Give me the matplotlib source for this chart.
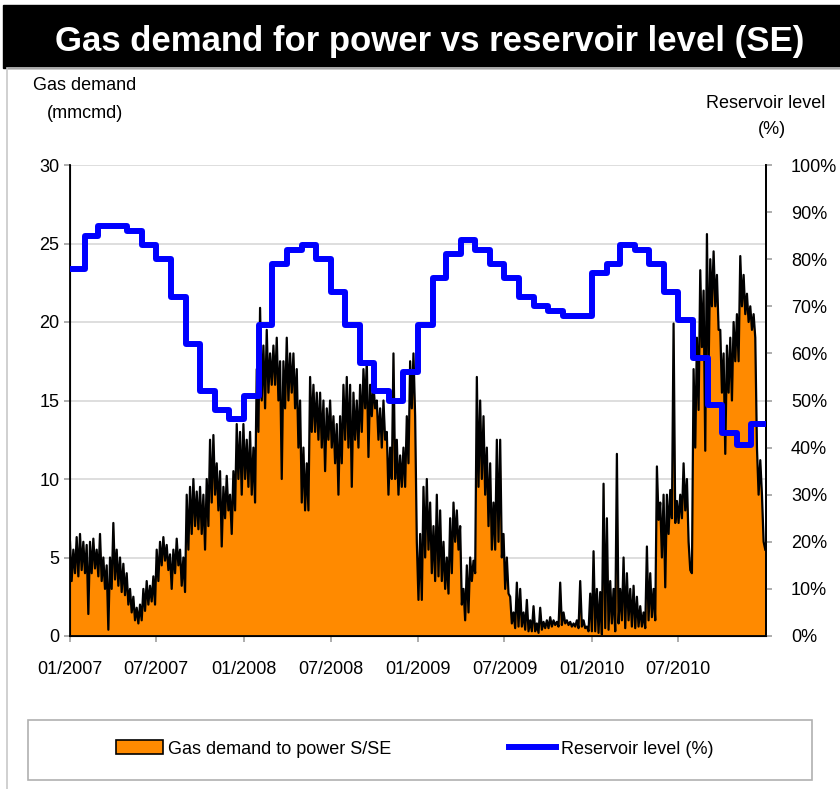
import matplotlib
matplotlib.use("Agg")
import matplotlib.pyplot as plt
import matplotlib.dates as mdates
from matplotlib.patches import Rectangle, Patch
from matplotlib.lines import Line2D
from matplotlib.ticker import PercentFormatter
import numpy as np
import pandas as pd

# weekly envelope of daily gas demand to power (mmcmd)
demand_hi = [
    6.0, 5.5, 6.3, 6.5, 6.0, 5.8, 6.0, 6.2, 5.5, 6.5, 5.0, 4.5,
    5.0, 7.2, 5.5, 5.0, 4.6, 4.0, 3.0, 2.5, 1.8, 2.0, 3.0, 3.5,
    3.2, 3.8, 5.5, 6.0, 6.3, 5.8, 5.2, 5.5, 6.2, 5.5, 5.0, 9.0,
    9.5, 10.0, 9.2, 9.5, 9.0, 10.0, 12.5, 12.8, 11.0, 10.5, 9.5, 10.2,
    9.0, 10.5, 13.5, 13.0,
    13.5, 12.5, 13.0, 12.0, 17.0, 20.9, 18.5, 19.5, 18.0, 18.5, 19.0, 17.5,
    17.5, 19.0, 18.0, 18.0, 17.0, 15.0, 12.0, 11.0, 16.5, 16.0, 15.5, 15.5,
    15.0, 14.5, 15.0, 14.0, 13.5, 14.0, 16.0, 16.5, 16.0, 15.5, 15.0, 16.0,
    17.0, 17.5, 16.0, 16.0, 15.0, 14.5, 15.0, 13.0, 12.0, 18.0, 12.5, 11.5,
    12.0, 14.0, 17.5, 18.0, 6.0,
    6.5, 9.5, 10.0, 8.5, 7.0, 9.0, 8.0, 6.0, 5.0, 7.5, 8.5, 8.0,
    7.0, 3.0, 4.5, 5.0, 4.8, 16.5, 15.0, 14.0, 12.0, 11.0, 8.5, 12.5,
    12.5, 6.5, 5.0, 2.5, 1.5, 3.4, 3.0, 1.5, 2.3, 1.0, 1.9, 0.8,
    1.8, 0.9, 1.0, 1.2, 1.0, 0.9, 3.4, 1.5, 1.0, 0.9, 0.8, 1.0,
    3.5, 1.0, 0.6, 2.7, 5.4,
    3.0, 2.8, 9.7, 7.5, 3.5, 3.0, 11.6, 3.0, 5.0, 4.0, 3.0, 3.2,
    2.5, 1.9, 1.5, 5.7, 4.0, 3.0, 10.8, 8.5, 9.0, 9.0, 9.3, 19.9,
    8.6, 9.0, 11.0, 10.0, 4.2, 17.0, 19.0, 23.3, 22.0, 25.6, 24.0, 24.5,
    23.0, 19.5, 18.0, 18.5, 19.0, 20.0, 20.5, 24.2, 23.0, 21.8, 21.0, 20.5,
    12.0, 11.2, 6.0,
]
demand_lo = [
    3.5, 4.0, 3.8, 4.2, 4.0, 1.4, 4.0, 4.3, 3.8, 3.5, 3.0, 0.4,
    3.0, 3.6, 3.2, 2.8, 2.6, 2.0, 1.5, 1.0, 0.8, 1.0, 1.6, 2.0,
    2.2, 2.0, 3.5, 4.5, 4.8, 4.2, 3.0, 4.0, 4.5, 3.2, 2.8, 5.5,
    6.5, 7.0, 6.8, 6.5, 5.5, 7.0, 8.5, 9.0, 8.0, 5.7, 7.5, 8.0,
    6.5, 8.0, 10.0, 9.0,
    10.0, 9.5, 9.0, 8.5, 13.0, 15.0, 14.5, 15.5, 16.0, 16.0, 15.0, 10.0,
    14.5, 15.0, 15.5, 14.5, 12.0, 8.5, 8.0, 8.0, 13.0, 13.0, 12.5, 12.0,
    10.5, 12.5, 12.0, 11.0, 9.0, 11.0, 12.5, 12.0, 9.5, 12.5, 12.0, 13.0,
    14.5, 11.4, 14.0, 14.5, 12.5, 12.0, 12.5, 9.0, 10.0, 10.0, 9.0, 9.5,
    9.5, 11.0, 14.5, 14.0, 2.3,
    2.3, 5.0, 5.5, 4.0, 3.5, 3.8, 3.5, 3.0, 2.7, 4.0, 6.0, 5.5,
    2.0, 1.0, 1.5, 3.5, 4.0, 9.5, 10.0, 9.0, 7.0, 5.5, 5.5, 6.0,
    5.0, 3.0, 2.7, 0.8, 0.5, 0.6, 0.6, 0.4, 0.3, 0.3, 0.3, 0.2,
    0.4, 0.5, 0.5, 0.6, 0.7, 0.6, 0.7, 0.8, 0.7, 0.6, 0.6, 0.5,
    0.6, 0.5, 0.3, 0.3, 0.3,
    0.2, 0.1, 0.5, 0.4, 0.8, 0.3, 0.8, 1.0, 0.5, 1.0, 0.6, 0.5,
    0.6, 0.6, 0.5, 1.0, 1.2, 1.0, 7.4, 5.0, 3.1, 6.5, 7.5, 7.2,
    7.2, 7.5, 8.0, 6.0, 4.0, 12.0, 14.4, 18.4, 11.8, 17.0, 21.0, 21.0,
    19.5, 15.5, 11.6, 15.5, 15.0, 17.5, 17.5, 21.0, 20.5, 20.0, 19.5, 19.0,
    9.0, 9.0, 5.5,
]

# monthly reservoir level (%), Jan 2007 .. Dec 2010
reservoir = [
    78, 85, 87, 87, 86, 83, 80, 72, 62, 52, 48, 46,
    51, 66, 79, 82, 83, 80, 73, 66, 58, 52, 50, 56,
    66, 76, 81, 84, 82, 79, 76, 72, 70, 69, 68, 68,
    77, 79, 83, 82, 79, 73, 67, 59, 49, 43, 40.5, 45,
]

tick_dates = pd.date_range("2007-01-01", "2010-07-01", freq="6MS")
tick_labels = [d.strftime("%m/%Y") for d in tick_dates]

weeks = pd.date_range("2007-01-01", periods=len(demand_hi), freq="7D")
t_hi = mdates.date2num(weeks)
t_lo = t_hi + 3.5
t = np.column_stack([t_hi, t_lo]).ravel()
demand = np.column_stack([demand_hi, demand_lo]).ravel()

months = pd.date_range("2007-01-01", periods=len(reservoir) + 1, freq="MS")
res = np.array(reservoir + [reservoir[-1]]) / 100.0

fnt = ["Liberation Sans Narrow", "Liberation Sans", "DejaVu Sans"]
plt.rcParams["font.family"] = fnt

fig = plt.figure(figsize=(8.4, 7.89), dpi=100)

# title bar and frame
fig.patches.append(Rectangle((3 / 840, 1 - 68 / 789), 1, 63 / 789,
                             transform=fig.transFigure, color="black", zorder=0))
fig.patches.append(Rectangle((7 / 840, -0.01), 1, 1 - 68 / 789 + 0.01,
                             transform=fig.transFigure, fill=False,
                             edgecolor="#c8c8c8", lw=1.2, zorder=0))
fig.text(430 / 840, 1 - 42 / 789, "Gas demand for power vs reservoir level (SE)",
         color="white", fontsize=25, fontweight="bold", ha="center", va="center")

ax = fig.add_axes([70 / 840, 1 - 636 / 789, 696 / 840, 471 / 789])
ax.fill_between(t, demand, 0, color="#FF8A00", lw=0, zorder=2)
ax.plot(t, demand, color="black", lw=1.6, zorder=3)
ax.set_xlim(mdates.date2num(pd.Timestamp("2007-01-01")),
            mdates.date2num(pd.Timestamp("2011-01-01")))
ax.set_ylim(0, 30)
ax.set_yticks(range(0, 31, 5))
ax.set_xticks(mdates.date2num(tick_dates))
ax.set_xticklabels(tick_labels)
ax.grid(axis="y", color="#d8d8d8", lw=1.2, zorder=0)
ax.set_axisbelow(True)
ax.spines["top"].set_visible(False)
for s in ["left", "right", "bottom"]:
    ax.spines[s].set_linewidth(1.3)
ax.tick_params(axis="both", labelsize=13, color="#a0a0a0", length=4, width=1.2)
ax.tick_params(axis="x", pad=14)

ax2 = ax.twinx()
ax2.step(mdates.date2num(months), res, where="post", color="#0000FF", lw=4.3, zorder=4)
ax2.set_ylim(0, 1)
ax2.set_yticks(np.arange(0, 1.01, 0.1))
ax2.yaxis.set_major_formatter(PercentFormatter(1.0, decimals=0))
ax2.spines["top"].set_visible(False)
ax2.spines["right"].set_linewidth(1.3)
ax2.tick_params(axis="y", labelsize=13, color="#a0a0a0", length=4, width=1.2, pad=14)

fig.text(85 / 840, 1 - 85 / 789, "Gas demand", fontsize=13, ha="center", va="center")
fig.text(85 / 840, 1 - 113 / 789, "(mmcmd)", fontsize=13, ha="center", va="center")
fig.text(706 / 840, 1 - 103 / 789, "Reservoir level", fontsize=13, ha="left", va="center")
fig.text(772 / 840, 1 - 130 / 789, "(%)", fontsize=13, ha="center", va="center")

# legend box
fig.patches.append(Rectangle((28 / 840, 1 - 780 / 789), 784 / 840, 60 / 789,
                             transform=fig.transFigure, fill=False,
                             edgecolor="#b0b0b0", lw=1.2))
handles = [Patch(facecolor="#FF8A00", edgecolor="black", lw=1.2),
           Line2D([], [], color="#0000FF", lw=4.3)]
fig.legend(handles, ["Gas demand to power S/SE", "Reservoir level (%)"],
           loc="center", bbox_to_anchor=(415 / 840, 1 - 749 / 789), ncol=2,
           frameon=False, fontsize=13, handlelength=2.6, handleheight=0.8,
           handletextpad=0.3, columnspacing=6.5)

fig.savefig("out.png", dpi=100)
